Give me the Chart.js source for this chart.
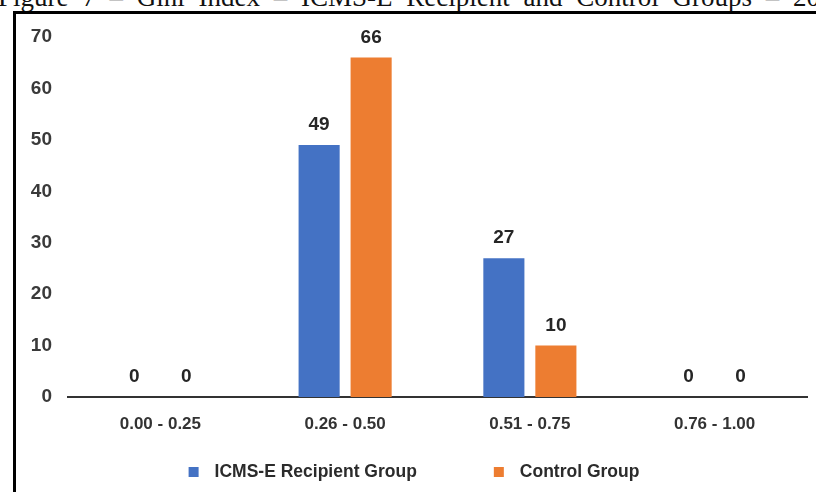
<!DOCTYPE html>
<html>
<head>
<meta charset="utf-8">
<script src="https://cdn.jsdelivr.net/npm/chart.js@4.4.1/dist/chart.umd.min.js"></script>
<style>
  html, body { margin: 0; padding: 0; background: #fff; }
  #wrap { position: relative; width: 816px; height: 492px; overflow: hidden; background: #fff; }
  #title {
    position: absolute; left: -2px; top: -18px; white-space: nowrap; word-spacing: 7px;
    font-family: "Liberation Serif", "Times New Roman", serif; font-size: 27px; color: #111;
  }
  #frame {
    position: absolute; left: 13px; top: 11px; width: 900px; height: 600px;
    border-left: 3px solid #000; border-top: 3px solid #000;
  }
  #chart { position: absolute; left: 0; top: 0; }
</style>
</head>
<body>
<div id="wrap">
  <div id="title">Figure 7 – Gini Index – ICMS-E Recipient and Control Groups – 20</div>
  <div id="frame"></div>
  <canvas id="chart" width="816" height="492"></canvas>
</div>
<script>
// Gini index ranges and number of municipalities per group
const categories = ["0.00 - 0.25", "0.26 - 0.50", "0.51 - 0.75", "0.76 - 1.00"];
const recipientValues = [0, 49, 27, 0];
const controlValues = [0, 66, 10, 0];
const seriesNames = ["ICMS-E Recipient Group", "Control Group"];
const yTicks = [0, 10, 20, 30, 40, 50, 60, 70];

const BLUE = "#4472C4";
const ORANGE = "#ED7D31";
const FONT = "'Liberation Sans', Arial, sans-serif";

// Value labels above each bar
const valueLabels = {
  id: "valueLabels",
  afterDatasetsDraw(chart) {
    const ctx = chart.ctx;
    ctx.save();
    ctx.font = "bold 19px " + FONT;
    ctx.fillStyle = "#262626";
    ctx.textAlign = "center";
    ctx.textBaseline = "alphabetic";
    chart.data.datasets.forEach((ds, di) => {
      chart.getDatasetMeta(di).data.forEach((bar, i) => {
        ctx.fillText(String(ds.data[i]), bar.x, bar.y - 15);
      });
    });
    ctx.restore();
  }
};

// Legend row below the axis labels
const bottomLegend = {
  id: "bottomLegend",
  afterDraw(chart) {
    const ctx = chart.ctx;
    ctx.save();
    ctx.font = "bold 17.5px " + FONT;
    const box = 10, boxGap = 16, itemGap = 77;
    const items = chart.data.datasets.map(ds => ({
      label: ds.label, color: ds.backgroundColor, w: ctx.measureText(ds.label).width
    }));
    const total = items.reduce((s, it) => s + box + boxGap + it.w, 0) + itemGap * (items.length - 1);
    let x = 414 - total / 2;
    const yBox = 467, yText = 477;
    items.forEach(it => {
      ctx.fillStyle = it.color;
      ctx.fillRect(x, yBox, box, box);
      ctx.fillStyle = "#2b2b2b";
      ctx.textBaseline = "alphabetic";
      ctx.textAlign = "left";
      ctx.fillText(it.label, x + box + boxGap, yText);
      x += box + boxGap + it.w + itemGap;
    });
    ctx.restore();
  }
};

new Chart(document.getElementById("chart"), {
  type: "bar",
  data: {
    labels: categories,
    datasets: [
      { label: seriesNames[0], data: recipientValues, backgroundColor: BLUE },
      { label: seriesNames[1], data: controlValues, backgroundColor: ORANGE }
    ]
  },
  options: {
    responsive: false,
    animation: false,
    devicePixelRatio: 1,
    layout: { padding: { left: 0, right: 9, top: 37, bottom: 0 } },
    datasets: { bar: { categoryPercentage: 0.563, barPercentage: 0.79 } },
    plugins: {
      legend: { display: false },
      tooltip: { enabled: false },
      title: { display: false }
    },
    scales: {
      x: {
        grid: { display: false, drawTicks: false },
        border: { display: true, color: "#333", width: 2 },
        ticks: {
          color: "#333",
          font: { family: FONT, size: 17, weight: "bold" },
          padding: 17,
          maxRotation: 0
        },
        afterFit(scale) { scale.height = 95; }
      },
      y: {
        min: 0,
        max: 70,
        afterBuildTicks(scale) { scale.ticks = yTicks.map(v => ({ value: v })); },
        grid: { display: false, drawTicks: false },
        border: { display: false },
        ticks: {
          color: "#3a3a3a",
          font: { family: FONT, size: 19, weight: "bold" },
          padding: 16
        },
        afterFit(scale) { scale.width = 68; }
      }
    }
  },
  plugins: [valueLabels, bottomLegend]
});
</script>
</body>
</html>
